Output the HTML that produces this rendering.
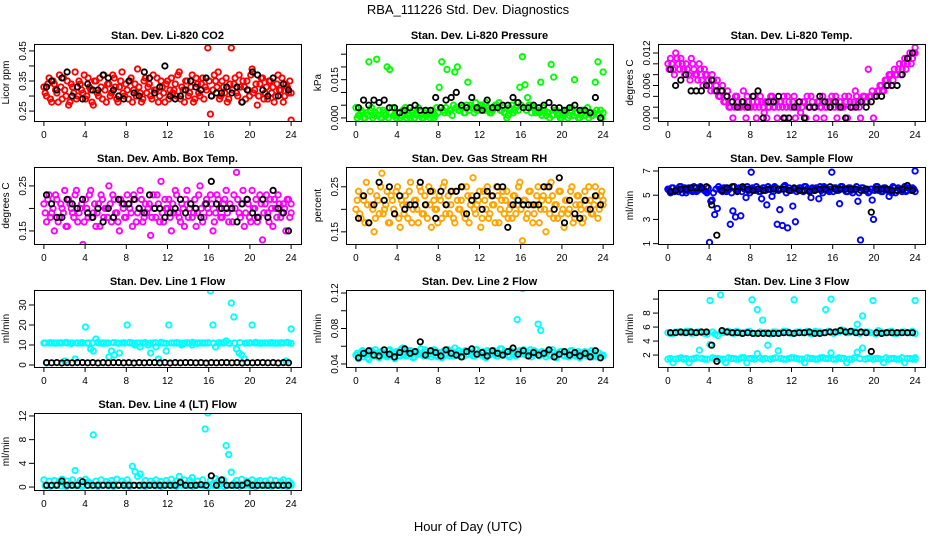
<!DOCTYPE html>
<html><head><meta charset="utf-8"><style>
body{margin:0;background:#fff}
svg{display:block;font-family:"Liberation Sans",Arial,sans-serif}
</style></head><body>
<svg id="chart" width="936" height="540" viewBox="0 0 936 540">
<text x="468" y="14" text-anchor="middle" font-size="13">RBA_111226  Std. Dev. Diagnostics</text>
<text x="468" y="531" text-anchor="middle" font-size="13">Hour of Day (UTC)</text>
<g id="panels"></g>
</svg>
<script>
const xTicks=[0,4,8,12,16,20,24];

const co2Color=[0.33,0.30,0.36,0.28,0.34,0.31,0.37,0.29,0.32,0.35,0.28,0.33,0.38,0.30,0.34,0.31,0.29,0.36,0.32,0.27,
0.35,0.30,0.33,0.37,0.28,0.34,0.31,0.36,0.29,0.33,0.38,0.30,0.32,0.35,0.28,0.34,0.39,0.31,0.29,0.36,
0.33,0.30,0.37,0.32,0.28,0.35,0.31,0.34,0.29,0.36,0.32,0.30,0.38,0.33,0.28,0.35,0.31,0.37,0.29,0.34,
0.30,0.36,0.33,0.46,0.24,0.32,0.35,0.38,0.30,0.33,0.36,0.29,0.46,0.34,0.31,0.37,0.28,0.33,0.35,0.30,
0.39,0.32,0.27,0.34,0.36,0.31,0.29,0.35,0.33,0.30,0.37,0.32,0.28,0.34,0.31,0.22];
const co2ColorB=[0.31,0.34,0.29,0.35,0.32,0.28,0.33,0.36,0.30,0.27,0.34,0.31,0.29,0.35,0.32,0.37,0.30,0.33,0.28,0.35,
0.31,0.36,0.29,0.32,0.34,0.30,0.37,0.33,0.28,0.35,0.31,0.34,0.29,0.36,0.32,0.30,0.33,0.28,0.35,0.31,
0.34,0.29,0.32,0.36,0.30,0.33,0.28,0.35,0.32,0.31,0.34,0.37,0.29,0.32,0.35,0.30,0.33,0.28,0.36,0.31,
0.34,0.29,0.32,0.35,0.30,0.37,0.33,0.29,0.35,0.31,0.28,0.34,0.32,0.36,0.30,0.33,0.35,0.29,0.32,0.37,
0.31,0.34,0.30,0.36,0.29,0.33,0.35,0.31,0.28,0.34,0.32,0.36,0.30,0.33,0.35,0.31];
const co2Black=[0.33,0.35,0.32,0.36,0.38,0.30,0.33,0.29,0.34,0.32,0.32,0.37,0.36,0.32,0.30,0.29,0.35,0.31,0.30,0.38,0.36,0.31,0.33,0.40,0.30,0.29,0.30,0.32,0.35,0.33,0.32,0.36,0.30,0.31,0.31,0.33,0.31,0.33,0.28,0.32,0.38,0.37,0.32,0.30,0.36,0.30,0.34,0.32];

const presColor=[0.004,0.001,0.003,0.000,0.002,0.022,0.004,0.001,0.023,0.003,0.000,0.002,0.020,0.019,0.004,0.001,0.002,0.000,0.003,0.004,
0.001,0.000,0.003,0.002,0.004,0.001,0.000,0.003,0.002,0.001,0.000,0.004,0.012,0.022,0.002,0.019,0.003,0.001,0.018,0.020,
0.003,0.004,0.002,0.014,0.005,0.004,0.006,0.003,0.005,0.004,0.006,0.003,0.002,0.004,0.005,0.006,0.003,0.002,0.000,0.004,
0.005,0.003,0.006,0.012,0.024,0.013,0.008,0.005,0.004,0.002,0.003,0.014,0.004,0.001,0.002,0.021,0.016,0.003,0.001,0.000,
0.002,0.003,0.001,0.004,0.015,0.002,0.000,0.003,0.001,0.004,0.002,0.001,0.014,0.022,0.003,0.018];
const presBase=[0.000,0.001,0.002,0.000,0.001,0.003,0.000,0.002,0.001,0.000,0.003,0.001,0.000,0.002,0.001,0.000,0.002,0.001,0.003,0.000,
0.001,0.002,0.000,0.001,0.003,0.000,0.002,0.001,0.000,0.003,0.001,0.002,0.004,0.003,0.004,0.002,0.003,0.005,0.004,0.003,
0.004,0.002,0.005,0.003,0.004,0.002,0.003,0.004,0.005,0.003,0.004,0.002,0.003,0.005,0.004,0.003,0.004,0.002,0.001,0.003,
0.002,0.004,0.003,0.005,0.004,0.003,0.005,0.002,0.004,0.003,0.002,0.001,0.003,0.002,0.000,0.001,0.003,0.002,0.000,0.001,
0.002,0.000,0.003,0.001,0.002,0.000,0.001,0.003,0.002,0.000,0.001,0.002,0.003,0.001,0.000,0.002];
const presBlack=[0.004,0.007,0.005,0.007,0.006,0.007,0.004,0.004,0.002,0.003,0.004,0.005,0.003,0.003,0.003,0.008,0.004,0.007,0.008,0.010,0.005,0.004,0.008,0.004,0.003,0.007,0.004,0.004,0.005,0.005,0.008,0.006,0.004,0.004,0.005,0.004,0.005,0.006,0.004,0.004,0.003,0.004,0.005,0.003,0.003,0.002,0.008,0.000];

const tempColor=[0.010,0.011,0.009,0.012,0.010,0.011,0.009,0.010,0.008,0.011,0.009,0.008,0.010,0.007,0.009,0.008,
0.006,0.008,0.005,0.007,0.004,0.006,0.003,0.005,
0.002,0.000,0.004,0.003,0.002,0.005,0.000,0.003,0.002,0.004,0.000,0.002,0.003,0.001,0.000,0.002,0.004,0.002,0.000,0.003,
0.002,0.000,0.004,0.002,0.003,0.000,0.002,0.001,0.003,0.000,0.002,0.004,0.002,0.000,0.003,0.002,0.000,0.002,0.003,0.004,
0.002,0.000,0.003,0.002,0.004,0.000,0.003,0.002,0.005,0.003,0.000,0.004,0.003,0.009,0.004,0.000,
0.004,0.005,0.006,0.005,0.007,0.008,0.006,0.009,0.008,0.010,0.009,0.011,0.010,0.012,0.011,0.013];
const tempColorB=[0.009,0.010,0.008,0.011,0.009,0.010,0.008,0.009,0.007,0.010,0.008,0.007,0.009,0.006,0.008,0.007,
0.005,0.007,0.006,0.004,0.005,0.003,0.004,0.002,
0.003,0.002,0.004,0.002,0.003,0.002,0.004,0.002,0.003,0.002,0.003,0.004,0.002,0.003,0.002,0.004,0.002,0.003,0.002,0.003,
0.004,0.002,0.003,0.002,0.004,0.002,0.003,0.002,0.003,0.004,0.002,0.003,0.002,0.003,0.002,0.004,0.002,0.003,0.002,0.003,
0.004,0.002,0.003,0.002,0.003,0.004,0.002,0.003,0.004,0.002,0.003,0.004,0.003,0.004,0.005,0.004,
0.005,0.006,0.005,0.007,0.006,0.008,0.007,0.008,0.009,0.008,0.010,0.009,0.011,0.010,0.012,0.012];
const tempBlack=[0.009,0.006,0.007,0.008,0.005,0.005,0.005,0.006,0.007,0.005,0.005,0.004,0.003,0.002,0.003,0.002,0.004,0.005,0.000,0.003,0.003,0.004,0.000,0.000,0.002,0.003,0.000,0.002,0.002,0.004,0.003,0.002,0.003,0.002,0.000,0.002,0.002,0.003,0.002,0.003,0.004,0.004,0.006,0.006,0.006,0.008,0.011,0.012];

const ambColor=[0.21,0.17,0.23,0.19,0.15,0.22,0.18,0.20,0.24,0.16,0.21,0.19,0.23,0.17,0.20,0.12,0.22,0.18,0.24,0.19,
0.16,0.21,0.23,0.18,0.20,0.25,0.17,0.22,0.19,0.15,0.21,0.18,0.23,0.20,0.16,0.22,0.19,0.24,0.17,0.21,
0.20,0.14,0.23,0.18,0.21,0.26,0.17,0.20,0.22,0.15,0.19,0.23,0.18,0.21,0.16,0.24,0.20,0.18,0.22,0.19,
0.25,0.17,0.21,0.20,0.23,0.15,0.19,0.22,0.18,0.21,0.24,0.17,0.20,0.23,0.28,0.19,0.21,0.16,0.22,0.18,
0.24,0.20,0.17,0.23,0.13,0.21,0.19,0.22,0.16,0.20,0.23,0.18,0.21,0.15,0.22,0.19];
const ambColorB=[0.19,0.22,0.18,0.20,0.23,0.17,0.21,0.19,0.16,0.22,0.20,0.18,0.24,0.19,0.21,0.17,0.20,0.23,0.18,0.21,
0.19,0.16,0.22,0.20,0.18,0.21,0.23,0.19,0.17,0.22,0.20,0.18,0.21,0.19,0.23,0.17,0.20,0.22,0.18,0.19,
0.21,0.18,0.20,0.23,0.17,0.19,0.22,0.20,0.18,0.21,0.24,0.19,0.17,0.20,0.22,0.18,0.21,0.19,0.16,0.23,
0.20,0.18,0.22,0.19,0.21,0.17,0.23,0.20,0.18,0.22,0.19,0.21,0.17,0.20,0.22,0.18,0.24,0.19,0.21,0.17,
0.20,0.22,0.18,0.21,0.19,0.23,0.17,0.20,0.22,0.18,0.21,0.19,0.20,0.22,0.18,0.21];
const ambBlack=[0.23,0.21,0.18,0.18,0.22,0.21,0.20,0.22,0.19,0.18,0.20,0.17,0.20,0.18,0.22,0.21,0.21,0.22,0.20,0.19,0.23,0.20,0.20,0.18,0.19,0.20,0.22,0.19,0.21,0.20,0.18,0.21,0.26,0.21,0.20,0.20,0.20,0.17,0.21,0.22,0.19,0.18,0.22,0.18,0.24,0.20,0.19,0.15];

const rhColor=[0.20,0.24,0.18,0.22,0.26,0.17,0.21,0.15,0.23,0.19,0.28,0.20,0.24,0.17,0.22,0.19,0.25,0.16,0.21,0.23,
0.18,0.26,0.20,0.22,0.17,0.24,0.19,0.21,0.25,0.16,0.22,0.20,0.23,0.18,0.26,0.21,0.19,0.24,0.17,0.22,
0.20,0.25,0.18,0.23,0.21,0.27,0.19,0.22,0.16,0.24,0.20,0.18,0.23,0.21,0.25,0.17,0.22,0.19,0.24,0.20,
0.18,0.23,0.21,0.26,0.13,0.22,0.19,0.24,0.17,0.21,0.25,0.20,0.23,0.15,0.22,0.26,0.18,0.21,0.24,0.19,
0.16,0.22,0.20,0.25,0.18,0.23,0.21,0.17,0.24,0.20,0.22,0.19,0.25,0.18,0.23,0.21];
const rhColorB=[0.22,0.19,0.23,0.17,0.21,0.24,0.20,0.18,0.22,0.25,0.19,0.21,0.17,0.23,0.20,0.24,0.18,0.22,0.19,0.21,
0.24,0.17,0.22,0.20,0.25,0.19,0.23,0.18,0.21,0.24,0.20,0.17,0.22,0.25,0.19,0.23,0.21,0.18,0.24,0.20,
0.22,0.19,0.25,0.17,0.23,0.20,0.21,0.24,0.18,0.22,0.25,0.19,0.21,0.17,0.23,0.20,0.24,0.22,0.18,0.21,
0.23,0.19,0.25,0.20,0.22,0.18,0.24,0.21,0.19,0.23,0.17,0.22,0.20,0.25,0.19,0.23,0.21,0.18,0.24,0.20,
0.22,0.19,0.24,0.17,0.21,0.23,0.20,0.18,0.22,0.25,0.19,0.21,0.23,0.20,0.24,0.22];
const rhBlack=[0.18,0.23,0.17,0.21,0.26,0.22,0.25,0.19,0.23,0.20,0.21,0.21,0.26,0.21,0.24,0.18,0.24,0.21,0.24,0.24,0.25,0.19,0.22,0.23,0.20,0.24,0.23,0.25,0.25,0.16,0.21,0.22,0.21,0.21,0.21,0.21,0.25,0.25,0.20,0.27,0.17,0.22,0.19,0.18,0.22,0.20,0.23,0.21];

const flowColor=[5.5,5.2,5.6,5.4,5.3,5.7,5.5,5.2,5.6,5.4,5.7,5.3,5.5,5.6,5.4,5.2,1.1,4.6,3.4,3.9,
5.5,5.3,5.6,5.4,2.6,3.7,3.2,5.5,3.3,5.6,4.8,5.4,6.9,5.5,5.7,5.3,4.7,5.6,4.2,5.5,
4.9,5.7,2.6,3.8,2.5,5.8,2.3,5.4,4.1,2.8,5.5,5.6,5.3,5.7,5.4,4.8,5.5,5.6,4.7,5.4,
5.7,5.5,5.3,6.9,5.6,5.4,4.3,5.7,5.5,5.3,5.6,5.2,5.5,4.5,1.3,5.6,5.4,5.2,5.5,3.0,
5.7,5.4,5.3,5.6,5.5,4.9,5.2,5.6,5.4,5.5,5.3,5.7,5.4,5.5,5.6,7.0];
const flowColorB=[5.4,5.6,5.3,5.5,5.7,5.2,5.6,5.4,5.5,5.3,5.6,5.4,5.7,5.5,5.3,5.6,4.5,5.2,5.5,5.7,
5.4,5.6,5.3,5.5,5.2,5.7,5.4,5.6,5.3,5.5,5.7,5.2,5.6,5.4,5.5,5.3,5.6,5.4,5.7,5.5,
5.3,5.6,5.4,5.5,5.7,5.2,5.6,5.4,5.5,5.3,5.6,5.4,5.7,5.5,5.3,5.6,5.4,5.5,5.7,5.2,
5.6,5.4,5.5,5.3,5.6,5.4,5.7,5.5,5.3,5.6,5.4,5.5,5.7,5.2,5.6,5.4,5.5,5.3,4.6,5.4,
5.7,5.5,5.3,5.6,5.4,5.5,5.7,5.2,5.6,5.4,5.5,5.3,5.6,5.4,5.5,5.3];
const flowBlack=[5.3,5.4,5.5,5.5,5.6,5.6,5.6,5.7,4.2,1.7,5.4,5.6,5.7,5.3,5.7,5.5,5.4,5.5,5.4,5.5,5.5,5.5,5.5,5.4,5.6,5.4,5.4,5.3,5.4,5.5,5.5,5.7,5.5,5.5,5.5,5.5,5.5,5.4,5.5,3.6,5.5,5.5,5.5,5.4,5.4,5.5,5.8,5.4];

const line1Color=[11,1,11,11,11,11,11,11,2,11,11,11,3,11,11,11,19,11,8,7,
13,11,11,11,11,4,7,5,11,6,11,11,20,11,11,10,11,9,11,11,
10,6,11,9,3,11,11,7,20,11,11,11,11,10,11,11,11,10,11,11,
11,11,11,11,37,20,9,11,11,11,12,11,31,24,8,6,5,3,11,11,
20,11,11,11,11,11,11,11,11,11,11,11,11,2,11,18];
const line1Base=[11.0,11.2,10.9,11.1,11.3,10.8,11.0,11.2,10.9,11.1,11.3,10.8,11.0,11.2,10.9,11.1,11.3,10.8,11.0,11.2,10.9,11.1,11.3,10.8,11.0,11.2,10.9,11.1,11.3,10.8,11.0,11.2,10.9,11.1,11.3,10.8,11.0,11.2,10.9,11.1,11.3,10.8,11.0,11.2,10.9,11.1,11.3,10.8];
const line1Black=[1.2,1.1,1.2,1.0,1.2,1.1,1.2,1.2,1.1,1.2,1.0,1.2,1.1,1.2,1.2,1.1,1.2,1.0,1.2,1.1,1.2,1.2,1.1,1.2,1.0,1.2,1.1,1.2,1.2,1.1,1.2,1.0,1.2,1.1,1.2,1.2,1.1,1.2,1.0,1.2,1.1,1.2,1.2,1.1,1.2,1.0,1.2,1.1];

const line2Color=[0.050,0.046,0.053,0.048,0.051,0.045,0.055,0.049,0.052,0.047,0.054,0.050,0.048,0.056,0.051,0.046,0.053,0.049,0.058,0.052,
0.050,0.055,0.047,0.053,0.051,0.057,0.049,0.054,0.052,0.048,0.056,0.050,0.053,0.047,0.055,0.051,0.049,0.054,0.058,0.050,
0.052,0.048,0.055,0.051,0.053,0.049,0.056,0.052,0.050,0.054,0.047,0.053,0.051,0.055,0.049,0.052,0.057,0.050,0.054,0.048,
0.053,0.051,0.090,0.055,0.125,0.052,0.049,0.056,0.051,0.054,0.085,0.078,0.052,0.048,0.055,0.050,0.053,0.047,0.051,0.054,
0.049,0.052,0.048,0.055,0.050,0.053,0.047,0.051,0.054,0.049,0.052,0.048,0.050,0.053,0.047,0.050];
const line2ColorB=[0.052,0.049,0.055,0.051,0.047,0.054,0.050,0.056,0.048,0.053,0.051,0.049,0.055,0.052,0.048,0.054,0.050,0.057,0.053,0.049,
0.055,0.051,0.048,0.054,0.052,0.050,0.056,0.049,0.053,0.051,0.055,0.048,0.052,0.054,0.050,0.056,0.053,0.049,0.051,0.055,
0.048,0.053,0.050,0.054,0.052,0.049,0.056,0.051,0.053,0.048,0.055,0.050,0.052,0.054,0.049,0.057,0.051,0.053,0.050,0.055,
0.052,0.049,0.054,0.051,0.056,0.050,0.053,0.048,0.055,0.052,0.049,0.054,0.051,0.053,0.050,0.056,0.049,0.052,0.054,0.050,
0.053,0.048,0.055,0.051,0.049,0.054,0.052,0.050,0.053,0.049,0.055,0.051,0.048,0.052,0.050,0.049];
const line2Black=[0.047,0.052,0.055,0.050,0.049,0.056,0.051,0.048,0.053,0.057,0.052,0.054,0.065,0.050,0.055,0.053,0.049,0.056,0.052,0.050,0.048,0.054,0.057,0.051,0.053,0.049,0.055,0.052,0.050,0.054,0.058,0.051,0.055,0.049,0.053,0.050,0.052,0.056,0.048,0.051,0.054,0.050,0.053,0.049,0.052,0.048,0.055,0.047];

const line3High=[5.2,5.1,5.3,5.2,5.4,5.2,5.3,5.1,9.8,5.0,10.6,5.3,5.2,5.4,5.1,5.3,9.9,8.5,7.0,5.2,5.3,5.1,5.4,5.2,9.9,5.3,5.2,5.1,5.4,5.3,8.5,10.0,5.3,5.6,5.2,5.4,6.4,7.6,5.3,9.8,5.5,5.2,5.3,5.1,5.2,5.3,5.2,9.8];
const line3HighB=[5.1,5.3,5.2,5.4,5.1,5.3,5.2,5.0,5.3,4.8,5.2,5.4,5.1,5.3,5.2,5.4,5.1,5.3,5.2,5.0,5.3,5.2,5.4,5.1,5.3,5.2,5.4,5.1,5.3,5.2,5.4,5.1,5.3,5.5,5.2,5.4,5.1,5.3,5.2,5.0,5.3,5.2,5.4,5.1,5.3,5.2,5.4,5.1];
const line3Low=[1.4,0.9,1.5,1.4,0.9,1.5,2.7,1.4,3.5,1.5,1.4,0.9,1.5,1.4,1.6,0.9,1.5,2.2,1.4,3.4,1.5,2.6,1.4,1.5,1.6,1.4,0.9,1.5,1.4,1.6,1.5,2.3,1.4,1.5,0.9,1.4,2.4,3.0,1.5,1.4,1.5,0.9,1.4,1.5,1.4,0.9,1.5,1.4];
const line3LowB=[1.5,1.4,1.6,1.5,1.4,1.6,1.5,1.4,1.6,1.5,1.4,1.6,1.5,1.4,1.6,1.5,1.4,1.6,1.5,1.4,1.6,1.5,1.4,1.6,1.5,1.4,1.6,1.5,1.4,1.6,1.5,1.4,1.6,1.5,1.4,1.6,1.5,1.4,1.6,1.5,1.4,1.6,1.5,1.4,1.6,1.5,1.4,1.6];
const line3Black=[5.2,5.2,5.3,5.2,5.3,5.2,5.3,5.3,3.4,1.1,5.5,5.3,5.2,5.2,5.1,5.2,5.1,5.1,5.1,5.1,5.1,5.1,5.2,5.2,5.1,5.2,5.2,5.3,5.1,5.1,5.2,5.3,5.3,5.5,5.3,5.4,5.2,5.3,5.2,2.5,5.2,5.1,5.2,5.2,5.2,5.2,5.2,5.2];

const line4Color=[1.2,0.4,1.0,0.3,1.1,0.5,0.9,1.3,0.4,1.0,0.6,1.2,2.8,0.5,1.1,0.4,1.3,0.9,0.6,8.8,
1.0,0.5,1.2,0.4,0.9,0.6,1.1,0.5,1.3,0.4,1.0,0.6,1.2,0.5,3.5,2.6,1.8,2.2,0.5,1.1,
0.4,1.0,0.6,1.2,0.5,0.9,0.4,1.1,0.6,1.3,0.5,1.0,1.8,0.4,1.2,0.6,1.1,1.6,0.5,1.0,
0.4,1.2,9.8,12.5,1.1,0.6,1.4,1.0,0.5,1.2,7.0,5.5,2.5,0.6,1.1,0.5,1.3,0.4,1.0,0.6,
1.2,0.5,0.9,1.1,0.4,1.0,0.6,1.2,0.5,1.1,0.4,0.9,1.2,0.5,1.0,0.6];
const line4Base=[0.2,0.1,0.3,0.2,0.1,0.3,0.2,0.1,0.3,0.2,0.1,0.3,0.2,0.1,0.3,0.2,0.1,0.3,0.2,0.1,0.3,0.2,0.1,0.3,0.2,0.1,0.3,0.2,0.1,0.3,0.2,0.1,0.3,0.2,0.1,0.3,0.2,0.1,0.3,0.2,0.1,0.3,0.2,0.1,0.3,0.2,0.1,0.3];
const line4Black=[0.3,0.3,0.3,1.0,0.3,0.3,0.3,0.9,0.3,0.3,0.3,0.3,0.3,0.3,0.3,0.3,0.3,0.3,0.3,0.3,0.3,0.3,0.3,0.3,0.3,0.3,0.8,0.3,0.3,0.3,0.4,0.3,1.9,0.3,1.2,0.3,0.3,0.3,0.3,0.7,0.3,0.3,0.3,0.3,0.3,0.3,0.3,0.3];

const panels=[
 {name:'co2',title:'Stan. Dev. Li-820 CO2',yl:'Licor ppm',col:0,row:0,ylim:[0.217,0.473],ticks:[0.25,0.30,0.35,0.40,0.45],labels:['0.25','','0.35','','0.45'],series:[[co2Color,'#ff0000',0],[co2ColorB,'#ff0000',0.125],[co2Black,'#000',0]]},
 {name:'pressure',title:'Stan. Dev. Li-820 Pressure',yl:'kPa',col:1,row:0,ylim:[-0.0012,0.029],ticks:[0,0.005,0.010,0.015,0.020,0.025],labels:['0.000','','','0.015','',''],series:[[presBase,'#00ff00',0.125],[presColor,'#00ff00',0],[presBlack,'#000',0]]},
 {name:'temp',title:'Stan. Dev. Li-820 Temp.',yl:'degrees C',col:2,row:0,ylim:[-0.00055,0.01366],ticks:[0,0.002,0.004,0.006,0.008,0.010,0.012],labels:['0.000','','','0.006','','','0.012'],series:[[tempColor,'#ff00ff',0],[tempColorB,'#ff00ff',0.125],[tempBlack,'#000',0]]},
 {name:'amb-temp',title:'Stan. Dev. Amb. Box Temp.',yl:'degrees C',col:0,row:1,ylim:[0.121,0.292],ticks:[0.15,0.20,0.25],labels:['0.15','','0.25'],series:[[ambColor,'#ff00ff',0],[ambColorB,'#ff00ff',0.125],[ambBlack,'#000',0]]},
 {name:'rh',title:'Stan. Dev. Gas Stream RH',yl:'percent',col:1,row:1,ylim:[0.123,0.294],ticks:[0.15,0.20,0.25],labels:['0.15','','0.25'],series:[[rhColor,'#ffa500',0],[rhColorB,'#ffa500',0.125],[rhBlack,'#000',0]]},
 {name:'sample-flow',title:'Stan. Dev. Sample Flow',yl:'ml/min',col:2,row:1,ylim:[0.97,7.33],ticks:[1,3,5,7],labels:['1','3','5','7'],series:[[flowColor,'#0000ff',0],[flowColorB,'#0000ff',0.125],[flowBlack,'#000',0]]},
 {name:'line1',title:'Stan. Dev. Line 1 Flow',yl:'ml/min',col:0,row:2,ylim:[-1,37.5],ticks:[0,10,20,30],labels:['0','10','20','30'],series:[[line1Base,'#00ffff',0.125],[line1Color,'#00ffff',0],[line1Black,'#000',0]]},
 {name:'line2',title:'Stan. Dev. Line 2 Flow',yl:'ml/min',col:1,row:2,ylim:[0.0366,0.1234],ticks:[0.04,0.06,0.08,0.10,0.12],labels:['0.04','','0.08','','0.12'],series:[[line2Color,'#00ffff',0],[line2ColorB,'#00ffff',0.125],[line2Black,'#000',0]]},
 {name:'line3',title:'Stan. Dev. Line 3 Flow',yl:'ml/min',col:2,row:2,ylim:[0.29,11.3],ticks:[2,4,6,8,10],labels:['2','4','6','8',''],series:[[line3High,'#00ffff',0],[line3HighB,'#00ffff',0.25],[line3Low,'#00ffff',0],[line3LowB,'#00ffff',0.25],[line3Black,'#000',0]]},
 {name:'line4',title:'Stan. Dev. Line 4 (LT) Flow',yl:'ml/min',col:0,row:3,ylim:[-0.5,12.5],ticks:[0,4,8,12],labels:['0','4','8','12'],series:[[line4Base,'#00ffff',0.125],[line4Color,'#00ffff',0],[line4Black,'#000',0]]}
];

const NS='http://www.w3.org/2000/svg';
const root=document.getElementById('panels');
function mk(tag,attrs,parent){const e=document.createElementNS(NS,tag);for(const k in attrs)e.setAttribute(k,attrs[k]);parent.appendChild(e);return e;}
const colLeft=[34,346,658],rowTop=[44,167,290,413],W=267,H=77;

panels.forEach(p=>{
 const L=colLeft[p.col],T=rowTop[p.row];
 const xs=h=>L+W*(h+0.96)/25.92;
 const ys=v=>T+H-H*(v-p.ylim[0])/(p.ylim[1]-p.ylim[0]);
 const g=mk('g',{},root);
 
 
 const t=mk('text',{x:L+W/2,y:T-5,'text-anchor':'middle','font-size':11,'font-weight':'bold'},g);t.textContent=p.title;
 
 
 const yl=mk('text',{x:0,y:0,'text-anchor':'middle','font-size':10,transform:`translate(${L-25},${T+H/2}) rotate(-90)`},g);yl.textContent=p.yl;
 
 
 const cp='clip-'+p.name;
 const cl=mk('clipPath',{id:cp},g);mk('rect',{x:L,y:T,width:W,height:H},cl);
 const pts=mk('g',{'clip-path':`url(#${cp})`},g);
 
 
 p.series.forEach(([vals,color,off])=>{
  const n=vals.length,black=color==='#000';
  vals.forEach((v,i)=>{
   const h=black?0.25+i*23.5/(n-1):Math.min(24,i*24/(n-1)+off);
   const c=mk('circle',{cx:xs(h).toFixed(1),cy:ys(v).toFixed(1),r:2.7,fill:'none',stroke:color,'stroke-width':black?1.8:1.9},pts);
   
   
  });
 });
 const box=mk('rect',{x:L+0.5,y:T+0.5,width:W,height:H,fill:'none',stroke:'#000','stroke-width':1},g);
 
 
 xTicks.forEach(h=>{
  const x=xs(h);
  mk('line',{x1:x,x2:x,y1:T+H,y2:T+H+5,stroke:'#000'},g);
  const lb=mk('text',{x:x,y:T+H+17,'text-anchor':'middle','font-size':10},g);lb.textContent=h;
  
  
 });
 p.ticks.forEach((v,i)=>{
  const y=ys(v);
  mk('line',{x1:L-5,x2:L,y1:y,y2:y,stroke:'#000'},g);
  if(p.labels[i]){
   const lb=mk('text',{x:0,y:0,'text-anchor':'middle','font-size':10,transform:`translate(${L-8},${y}) rotate(-90)`},g);lb.textContent=p.labels[i];
   
   
  }
 });
});
</script>
</body></html>
